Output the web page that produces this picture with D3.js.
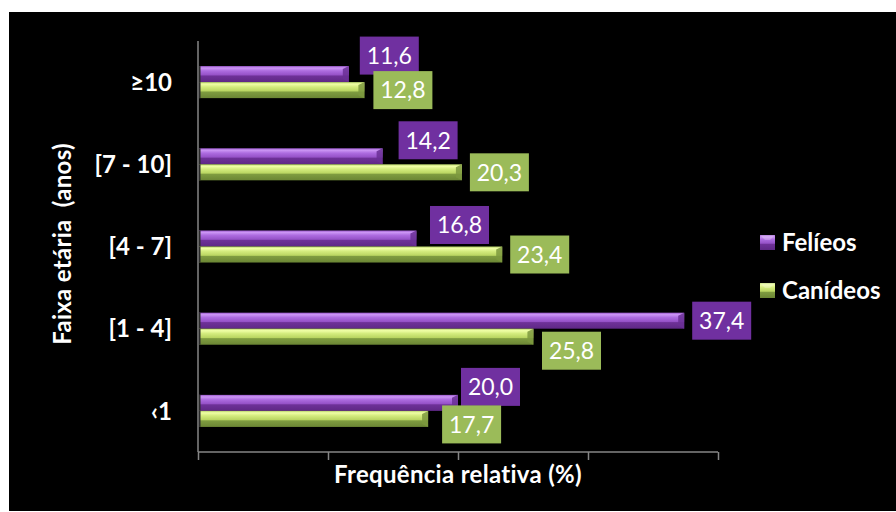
<!DOCTYPE html>
<html>
<head>
<meta charset="utf-8">
<script src="https://cdn.jsdelivr.net/npm/d3@7"></script>
<style>
  body { margin: 0; background: #fff; }
  text { font-family: Lato, "Open Sans", sans-serif; fill: #fff; }
</style>
</head>
<body>
<svg width="896" height="512"></svg>
<script>
// data
var categories = ["≥10", "[7 - 10]", "[4 - 7]", "[1 - 4]", "‹1"];
var series = ["Felíeos", "Canídeos"];
var felideos = [11.6, 14.2, 16.8, 37.4, 20.0];
var canideos = [12.8, 20.3, 23.4, 25.8, 17.7];
var xTicks = [0, 10, 20, 30, 40];

// manual label nudges (layout, not data) [dx, dy] per category
var nudgeFel = [[3, -18.5], [8, -16], [5.6, -13.5], [0, 0], [-5, -16]];
var nudgeCan = [[1, 0], [0, 0], [0, 0], [0.6, 14], [6, 5.5]];

var svg = d3.select("svg");

// background panel
svg.append("rect")
    .attr("x", 9).attr("y", 12)
    .attr("width", 887).attr("height", 499)
    .attr("fill", "#000");

var xScale = d3.scaleLinear().domain([0, 40]).range([198, 718]);
var yScale = d3.scaleBand().domain(categories).range([41, 452])
    .paddingInner(0.61).paddingOuter(0.305);
var sub = d3.scaleBand().domain(series).range([0, yScale.bandwidth()]);

var colors = { "Felíeos": "#7030A0", "Canídeos": "#9BBB59" };

// gradients for the bevelled bars
var defs = svg.append("defs");
function grad(id, stops) {
    var g = defs.append("linearGradient").attr("id", id)
        .attr("x1", 0).attr("y1", 0).attr("x2", 0).attr("y2", 1);
    stops.forEach(function(s) {
        g.append("stop").attr("offset", s[0]).attr("stop-color", s[1]);
    });
}
grad("gFel", [[0, "#9a58cc"], [0.12, "#cc96f5"], [0.3, "#ad6ce0"], [0.55, "#9652c8"], [0.62, "#6e3198"], [1, "#5f2886"]]);
grad("gCan", [[0, "#b7d46a"], [0.12, "#f0ffa6"], [0.3, "#d4ec7e"], [0.55, "#bad662"], [0.62, "#7f9c40"], [1, "#6b8634"]]);
var gradId = { "Felíeos": "url(#gFel)", "Canídeos": "url(#gCan)" };
var endColor = { "Felíeos": "#6a2f95", "Canídeos": "#7c993e" };

var rows = [];
categories.forEach(function(c, i) {
    rows.push({ cat: c, s: "Felíeos", v: felideos[i], n: nudgeFel[i] });
    rows.push({ cat: c, s: "Canídeos", v: canideos[i], n: nudgeCan[i] });
});

// x axis
var xAxis = svg.append("g")
    .attr("transform", "translate(0,452)")
    .call(d3.axisBottom(xScale).tickValues(xTicks).tickSize(8).tickFormat(""));
xAxis.selectAll("line, path").attr("stroke", "#868686").attr("stroke-width", 1.5);
xAxis.select(".domain").attr("d", "M198,0H718");

// y axis line
svg.append("line")
    .attr("x1", 198).attr("x2", 198)
    .attr("y1", 41).attr("y2", 452)
    .attr("stroke", "#868686").attr("stroke-width", 1.5);

// bars
var bars = svg.selectAll(".bar").data(rows).enter().append("g").attr("class", "bar");
bars.append("rect")
    .attr("x", xScale(0) + 1)
    .attr("y", function(d) { return yScale(d.cat) + sub(d.s); })
    .attr("width", function(d) { return xScale(d.v) - xScale(0) - 1; })
    .attr("height", sub.bandwidth())
    .attr("fill", function(d) { return gradId[d.s]; });
bars.append("path")
    .attr("d", function(d) {
        var x1 = xScale(d.v), y0 = yScale(d.cat) + sub(d.s), h = sub.bandwidth();
        return "M" + (x1 - 6) + "," + (y0 + 3) + "L" + x1 + "," + y0 + "L" + x1 + "," + (y0 + h) +
            "L" + (x1 - 6) + "," + (y0 + h - 3) + "Z";
    })
    .attr("fill", function(d) { return endColor[d.s]; })
    .attr("opacity", 0.85);
bars.append("rect")
    .attr("x", xScale(0) + 1)
    .attr("y", function(d) { return yScale(d.cat) + sub(d.s); })
    .attr("width", 1.5)
    .attr("height", sub.bandwidth())
    .attr("fill", "#2a2a2a");

// data labels
var boxW = 59, boxH = 38;
var labels = svg.selectAll(".lbl").data(rows).enter().append("g").attr("class", "lbl")
    .attr("transform", function(d) {
        var cy = yScale(d.cat) + sub(d.s) + sub.bandwidth() / 2 + d.n[1];
        return "translate(" + (xScale(d.v) + 8 + d.n[0]) + "," + (cy - boxH / 2) + ")";
    });
labels.append("rect")
    .attr("width", boxW).attr("height", boxH)
    .attr("fill", function(d) { return colors[d.s]; });
labels.append("text")
    .attr("x", boxW / 2).attr("y", boxH / 2)
    .attr("dy", "0.36em")
    .attr("text-anchor", "middle")
    .style("font-size", "23px")
    .text(function(d) { return d.v.toFixed(1).replace(".", ","); });

// category labels
svg.selectAll(".cat").data(categories).enter().append("text")
    .attr("x", 172)
    .attr("y", function(d) { return yScale(d) + yScale.bandwidth() / 2; })
    .attr("dy", "0.36em")
    .attr("text-anchor", "end")
    .style("font-size", "24px").style("font-weight", "bold")
    .text(function(d) { return d; });

// axis titles
svg.append("text")
    .attr("transform", "translate(71,244) rotate(-90)")
    .attr("text-anchor", "middle")
    .style("font-size", "24px").style("font-weight", "bold")
    .style("white-space", "pre")
    .style("letter-spacing", "0.3px")
    .text("Faixa etária  (anos)");

svg.append("text")
    .attr("x", 458).attr("y", 483)
    .attr("text-anchor", "middle")
    .style("font-size", "24px").style("font-weight", "bold")
    .style("letter-spacing", "0.3px")
    .text("Frequência relativa (%)");

// legend
var legend = svg.selectAll(".leg").data(series).enter().append("g")
    .attr("transform", function(d, i) { return "translate(760," + (235 + i * 48) + ")"; });
legend.append("rect")
    .attr("width", 15).attr("height", 15)
    .attr("fill", function(d) { return gradId[d]; });
legend.append("path")
    .attr("d", "M0,0L15,0L10,5L5,5Z")
    .attr("fill", "#fff").attr("opacity", 0.25);
legend.append("text")
    .attr("x", 22).attr("y", 7.5)
    .attr("dy", "0.36em")
    .style("font-size", "24px").style("font-weight", "bold")
    .text(function(d) { return d; });
</script>
</body>
</html>
